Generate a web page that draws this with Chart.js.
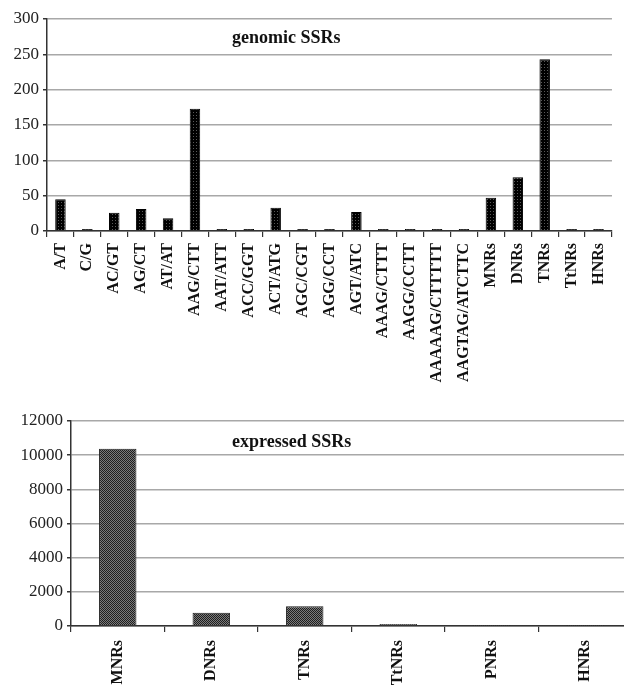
<!DOCTYPE html>
<html>
<head>
<meta charset="utf-8">
<script src="https://cdn.jsdelivr.net/npm/chart.js@4/dist/chart.umd.min.js"></script>
<style>
    html, body { margin: 0; padding: 0; background: #fff; width: 624px; height: 687px; overflow: hidden; }
    .box { position: absolute; left: 0; }
    .label { position: absolute; font-family: "Liberation Serif", "Times New Roman", serif; font-weight: bold; font-size: 18px; color: #111; white-space: nowrap; }
</style>
</head>
<body>
<div class="box" style="top:0; width:624px; height:395px;"><canvas id="genomicChart"></canvas></div>
<div class="box" style="top:400px; width:634px; height:287px;"><canvas id="expressedChart"></canvas></div>
<div class="label" style="left:232px; top:27px;">genomic SSRs</div>
<div class="label" style="left:232px; top:431px;">expressed SSRs</div>

<script>
// genomic SSR motif counts (top panel)
const genomicMotifs = ['A/T', 'C/G', 'AC/GT', 'AG/CT', 'AT/AT', 'AAG/CTT', 'AAT/ATT', 'ACC/GGT', 'ACT/ATG',
    'AGC/CGT', 'AGG/CCT', 'AGT/ATC', 'AAAG/CTTT', 'AAGG/CCTT', 'AAAAAG/CTTTTT', 'AAGTAG/ATCTTC',
    'MNRs', 'DNRs', 'TNRs', 'TtNRs', 'HNRs'];
const genomicCounts = [45, 1, 26, 31, 18, 173, 2, 0.5, 33, 1, 1.5, 27, 0.5, 1, 0.5, 0.5, 47, 76, 243, 2, 1];
const genomicTicks = [0, 50, 100, 150, 200, 250, 300];

// expressed SSR repeat classes (bottom panel)
const expressedClasses = ['MNRs', 'DNRs', 'TNRs', 'TtNRs', 'PNRs', 'HNRs'];
const expressedCounts = [10380, 780, 1150, 120, 10, 10];
const expressedTicks = [0, 2000, 4000, 6000, 8000, 10000, 12000];

const serif = '"Liberation Serif", "Times New Roman", serif';

// small repeating fill like the dotted bars of the original figure
function makePattern(ctx, cells, size) {
    const c = document.createElement('canvas');
    c.width = size;
    c.height = size;
    const p = c.getContext('2d');
    cells.forEach(function(cell) {
        p.fillStyle = cell[0];
        p.fillRect(cell[1], cell[2], cell[3], cell[4]);
    });
    return ctx.createPattern(c, 'repeat');
}

function buildChart(id, labels, values, ticks, opts) {
    const ctx = document.getElementById(id).getContext('2d');
    return new Chart(ctx, {
        type: 'bar',
        data: {
            labels: labels,
            datasets: [{
                data: values,
                backgroundColor: opts.fill,
                borderColor: opts.border,
                borderWidth: 1,
                minBarLength: opts.minBar,
                categoryPercentage: 1,
                barPercentage: opts.barPct
            }]
        },
        options: {
            responsive: true,
            maintainAspectRatio: false,
            animation: false,
            layout: { padding: opts.padding },
            plugins: { legend: { display: false }, tooltip: { enabled: false } },
            scales: {
                x: {
                    grid: { drawOnChartArea: false, offset: true, tickLength: 6, color: '#333', lineWidth: 1.2 },
                    border: { color: '#333', width: 1.5 },
                    ticks: {
                        autoSkip: false, maxRotation: 90, minRotation: 90, padding: opts.xPad,
                        color: '#111', font: { family: serif, size: 16, weight: 'bold' }
                    },
                    afterFit: function(scale) { scale.height = opts.xHeight; }
                },
                y: {
                    min: 0,
                    max: ticks[ticks.length - 1],
                    afterBuildTicks: function(scale) { scale.ticks = ticks.map(v => ({ value: v })); },
                    grid: { color: '#a8a8a8', lineWidth: 1.5, tickLength: 4, tickColor: '#333' },
                    border: { color: '#333', width: 1.5 },
                    ticks: {
                        padding: 4, color: '#222', font: { family: serif, size: 17 },
                        callback: function(v) { return String(v); }
                    },
                    afterFit: function(scale) { scale.width = opts.yWidth; }
                }
            }
        }
    });
}

document.addEventListener('DOMContentLoaded', function() {
    const c1 = document.getElementById('genomicChart').getContext('2d');
    const c2 = document.getElementById('expressedChart').getContext('2d');

    buildChart('genomicChart', genomicMotifs, genomicCounts, genomicTicks, {
        fill: makePattern(c1, [['#000', 0, 0, 3, 3], ['#5a5a5a', 1, 1, 1, 1]], 3),
        border: '#000',
        barPct: 0.39,
        minBar: 2,
        xPad: 6,
        padding: { top: 19, right: 12, left: 0, bottom: 0 },
        xHeight: 164,
        yWidth: 47
    });

    buildChart('expressedChart', expressedClasses, expressedCounts, expressedTicks, {
        fill: makePattern(c2, [['#1e1e1e', 0, 0, 2, 2], ['#7a7a7a', 1, 0, 1, 1], ['#7a7a7a', 0, 1, 1, 1]], 2),
        border: '#1e1e1e',
        barPct: 0.40,
        minBar: 0,
        xPad: 8,
        padding: { top: 21, right: 2, left: 0, bottom: 0 },
        xHeight: 61,
        yWidth: 71
    });
});
</script>
</body>
</html>
